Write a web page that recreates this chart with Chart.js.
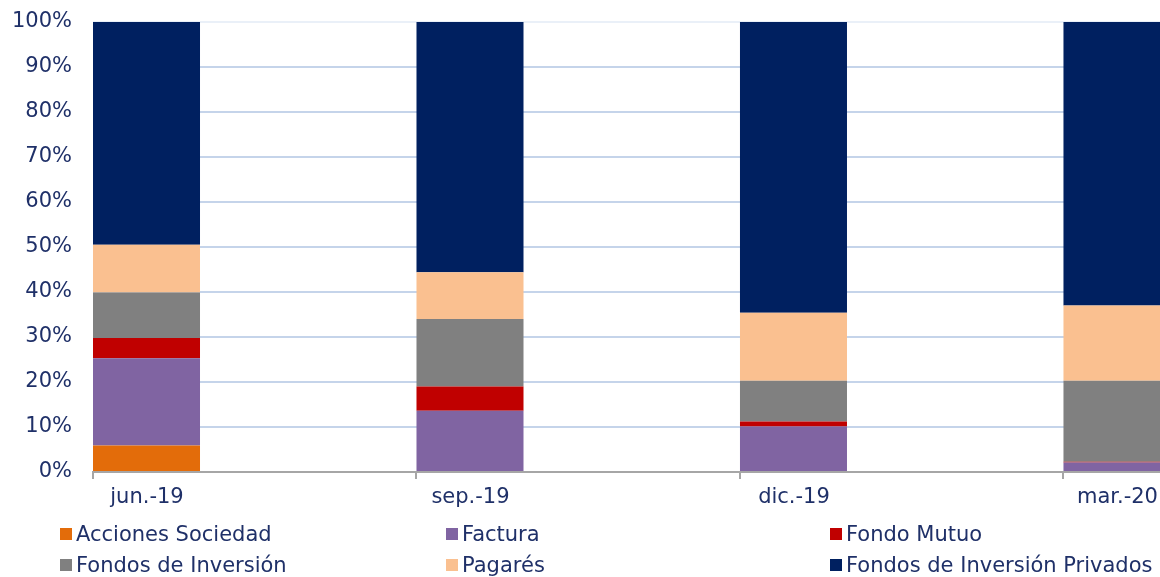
<!DOCTYPE html>
<html>
<head>
<meta charset="utf-8">
<script src="https://cdn.jsdelivr.net/npm/chart.js@4/dist/chart.umd.min.js"></script>
<style>
    html, body { margin: 0; padding: 0; background: #fff; }
    #wrap { position: relative; width: 1160px; height: 577px; overflow: hidden; }
    #legend { position: absolute; left: 0; top: 522px; width: 1400px; }
    .item { position: absolute; white-space: nowrap; font: 21px Verdana, "DejaVu Sans", sans-serif; color: #1F3068; }
    .item span.box { display: inline-block; width: 12px; height: 12px; margin-right: 4px; vertical-align: 1px; }
</style>
</head>
<body>
<div id="wrap">
    <canvas id="chart" width="1160" height="577"></canvas>
    <div id="legend"></div>
</div>
<script>
// categories and series values (% of total)
const categories = ["jun.-19", "sep.-19", "dic.-19", "mar.-20"];
const accionesSociedad = [5.9, 0, 0, 0];
const factura = [19.4, 13.6, 10.1, 2.1];
const fondoMutuo = [4.5, 5.4, 1.1, 0.2];
const fondosInversion = [10.1, 15.0, 9.1, 18.0];
const pagares = [10.6, 10.4, 15.1, 16.7];
const fondosInversionPrivados = [49.5, 55.6, 64.6, 63.0];
const yTicks = [0, 10, 20, 30, 40, 50, 60, 70, 80, 90, 100];

const textColor = "#1F3068";
const fontFamily = 'Verdana, "DejaVu Sans", sans-serif';

// bar occupies this fraction of the category spacing, sits at left of its slot
const BAR_FRAC = 0.3308;

function toPoints(values) {
    return values.map((v, i) => ({ x: i, y: v }));
}

const series = [
    { label: "Acciones Sociedad", data: accionesSociedad, color: "#E36C0A" },
    { label: "Factura", data: factura, color: "#8064A2" },
    { label: "Fondo Mutuo", data: fondoMutuo, color: "#C00000" },
    { label: "Fondos de Inversión", data: fondosInversion, color: "#808080" },
    { label: "Pagarés", data: pagares, color: "#FAC090" },
    { label: "Fondos de Inversión Privados", data: fondosInversionPrivados, color: "#002060" }
];

const ctx = document.getElementById("chart").getContext("2d");
const chart = new Chart(ctx, {
    type: "bar",
    data: {
        datasets: series.map(s => ({
            label: s.label,
            data: toPoints(s.data),
            backgroundColor: s.color,
            borderWidth: 0
        }))
    },
    options: {
        responsive: false,
        animation: false,
        layout: { padding: { top: 22, right: 0, bottom: 60, left: 0 } },
        datasets: { bar: { categoryPercentage: BAR_FRAC, barPercentage: 1 } },
        scales: {
            x: {
                type: "linear",
                stacked: true,
                offset: false,
                min: -BAR_FRAC / 2,
                max: 3.133,
                afterBuildTicks: scale => {
                    scale.ticks = categories.map((c, i) => ({ value: i - BAR_FRAC / 2 }));
                },
                afterFit: scale => {
                    scale.height = 45;
                    scale.paddingLeft = 0;
                    scale.paddingRight = 0;
                },
                grid: {
                    offset: false,
                    drawOnChartArea: false,
                    drawTicks: true,
                    tickLength: 7,
                    color: "#A6A6A6",
                    lineWidth: 2
                },
                border: { display: true, color: "#A6A6A6", width: 2 },
                ticks: {
                    autoSkip: false,
                    maxRotation: 0,
                    labelOffset: 54,
                    padding: 6,
                    color: textColor,
                    font: { family: fontFamily, size: 21 },
                    callback: (value, index) => categories[index]
                }
            },
            y: {
                stacked: true,
                min: 0,
                max: 100,
                afterBuildTicks: scale => {
                    scale.ticks = yTicks.map(v => ({ value: v }));
                },
                afterFit: scale => {
                    scale.width = 93;
                    scale.paddingTop = 0;
                    scale.paddingBottom = 0;
                },
                grid: {
                    drawTicks: false,
                    color: ctx => ctx.tick && ctx.tick.value === 100 ? "#EAF0F8" : (ctx.tick && ctx.tick.value === 0 ? "rgba(0,0,0,0)" : "#C5D4EA"),
                    lineWidth: 2
                },
                border: { display: false },
                ticks: {
                    padding: 21,
                    color: textColor,
                    font: { family: fontFamily, size: 21 },
                    callback: v => v + "%"
                }
            }
        },
        plugins: {
            legend: { display: false },
            tooltip: { enabled: false }
        }
    }
});

// legend laid out as a 3-column grid like the original
const legendEl = document.getElementById("legend");
const colX = [60, 446, 830];
const rowY = [0, 31];
chart.data.datasets.forEach((ds, i) => {
    const item = document.createElement("div");
    item.className = "item";
    item.style.left = colX[i % 3] + "px";
    item.style.top = rowY[Math.floor(i / 3)] + "px";
    const box = document.createElement("span");
    box.className = "box";
    box.style.background = ds.backgroundColor;
    item.appendChild(box);
    item.appendChild(document.createTextNode(ds.label));
    legendEl.appendChild(item);
});
</script>
</body>
</html>
